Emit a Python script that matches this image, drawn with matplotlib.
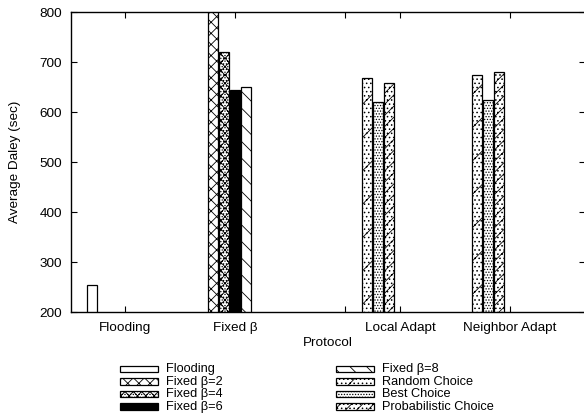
import matplotlib
matplotlib.use("Agg")
import matplotlib.pyplot as plt
from matplotlib.patches import Rectangle

plt.rcParams['font.family'] = ['Liberation Sans', 'DejaVu Sans']
plt.rcParams['hatch.linewidth'] = 0.6

# ---- data ----
group_pos = [1.0, 2.0, 3.5, 4.5]
group_names = ["Flooding", "Fixed \u03b2", "Local Adapt", "Neighbor Adapt"]
tick_pos = [1.0, 2.0, 3.0, 3.5, 4.5]
tick_labels = ["Flooding", "Fixed \u03b2", "", "Local Adapt", "Neighbor Adapt"]

series_names = ["Flooding", "Fixed \u03b2=2", "Fixed \u03b2=4", "Fixed \u03b2=6",
                "Fixed \u03b2=8", "Random Choice", "Best Choice", "Probabilistic Choice"]
# (group index, value) for each series
flooding = [(0, 254)]
fixed_b2 = [(1, 830)]
fixed_b4 = [(1, 721)]
fixed_b6 = [(1, 644)]
fixed_b8 = [(1, 651)]
random_choice = [(2, 669), (3, 674)]
best_choice = [(2, 621), (3, 625)]
prob_choice = [(2, 659), (3, 681)]

# ---- styles ----
series_data = [flooding, fixed_b2, fixed_b4, fixed_b6, fixed_b8,
               random_choice, best_choice, prob_choice]
slot = [0, 1, 2, 3, 4, 0, 1, 2]
faces = ['white', 'white', 'white', 'black', 'white', 'white', 'white', 'white']
hatches = ['', 'xxx', 'xxxx......', '', '\\\\', '/....', '......', '///....']
bar_w = 0.09
offsets = [-0.3, -0.2, -0.1, 0.0, 0.1]

W, H = 584, 419
fig = plt.figure(figsize=(W / 100, H / 100), dpi=100)
ax = fig.add_axes([71 / W, 1 - 312 / H, (585 - 71) / W, (312 - 12.5) / H])

for i, data in enumerate(series_data):
    xs = [group_pos[g] + offsets[slot[i]] for g, _ in data]
    vs = [v for _, v in data]
    ax.bar(xs, vs, width=bar_w, bottom=0, color=faces[i], edgecolor='black',
           hatch=hatches[i], linewidth=0.9, zorder=2)

ax.set_xlim(0.51, 5.18)
ax.set_ylim(200, 800)
ax.set_yticks([200, 300, 400, 500, 600, 700, 800])
ax.set_xticks(tick_pos)
ax.set_xticklabels(tick_labels)
ax.tick_params(direction='in', length=4, width=0.8, top=True, right=True,
               labelsize=9.7, pad=7)
ax.tick_params(axis='y', pad=6.5)
for s in ax.spines.values():
    s.set_linewidth(1.0)
ax.spines['right'].set_visible(False)
ax.set_xlabel("Protocol", fontsize=9.7, labelpad=2)
ax.set_ylabel("Average Daley (sec)", fontsize=9.7, labelpad=13)

# ---- legend (manual, gnuplot style) ----
col_x = [120, 336]
row_y = [369, 381.5, 394, 406.5]
sw_w, sw_h = 38, 6.5
for i, name in enumerate(series_names):
    c, r = i // 4, i % 4
    x0 = col_x[c]
    yc = row_y[r]
    rect = Rectangle((x0 / W, 1 - (yc + sw_h / 2) / H), sw_w / W, sw_h / H,
                     transform=fig.transFigure, facecolor=faces[i],
                     edgecolor='black', hatch=hatches[i], linewidth=0.9)
    fig.add_artist(rect)
    fig.text((x0 + sw_w + 8) / W, 1 - yc / H, name, fontsize=9.2,
             va='center', ha='left')

fig.savefig("out.png", dpi=100)
